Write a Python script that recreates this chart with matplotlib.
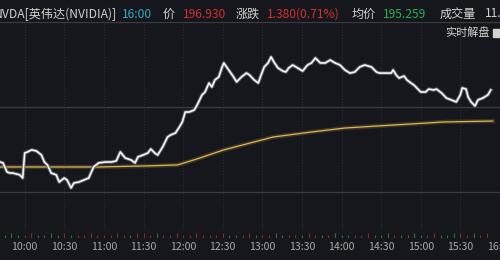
import matplotlib
matplotlib.use("Agg")
import matplotlib.pyplot as plt
import matplotlib.patheffects as pe
from matplotlib.patches import Rectangle
import numpy as np

plt.rcParams['font.family'] = ['Noto Sans CJK SC', 'DejaVu Sans']

# ---- data (minutes after 09:30, price) ----
price_min = [11.3, 13.6, 16.6, 18.8, 21.0, 26.3, 28.5, 30.0, 32.2, 35.2, 38.9, 42.7, 44.9, 47.2,
             50.1, 53.9, 56.1, 59.9, 62.1, 65.1, 67.3, 71.0, 74.8, 78.5, 82.2, 86.0, 91.2, 95.7,
             99.4, 102.4, 106.1, 110.6, 113.6, 115.8, 119.6, 123.3, 125.5, 128.5, 130.7, 134.5,
             138.2, 140.5, 144.2, 147.2, 149.4, 151.6, 154.6, 158.4, 160.6, 164.3, 166.6, 169.6,
             171.8, 174.0, 177.0, 179.3, 180.8, 184.5, 188.2, 190.5, 194.2, 197.9, 200.2, 203.9,
             206.9, 209.1, 211.4, 214.3, 216.6, 218.8, 221.8, 225.5, 227.8, 230.0, 233.0, 236.7,
             240.5, 244.2, 247.2, 250.2, 253.9, 257.6, 261.4, 265.1, 268.8, 272.5, 276.3, 280.0,
             283.7, 287.5, 292.7, 296.4, 298.7, 307.6, 309.1, 311.3, 313.6, 317.3, 319.6, 322.5,
             324.8, 327.0, 330.0, 333.7, 336.0, 339.7, 341.9, 345.7, 349.4, 353.1, 356.9, 359.9,
             361.4, 364.3, 365.8, 368.1, 371.1, 373.3, 377.0, 380.8, 383.0]
price_val = [193.01, 192.96, 192.47, 192.41, 192.41, 192.31, 192.14, 193.50, 193.56, 193.67, 193.61,
             193.39, 193.01, 192.85, 192.41, 192.31, 191.92, 192.14, 192.03, 191.60, 191.87, 191.92,
             192.03, 192.14, 192.74, 192.96, 193.01, 193.01, 193.07, 193.56, 193.23, 193.12, 192.96,
             193.29, 193.39, 193.50, 193.72, 193.50, 193.39, 193.83, 194.37, 194.48, 194.59, 194.92,
             195.19, 195.73, 195.73, 195.84, 196.11, 196.66, 196.82, 197.31, 197.09, 197.47, 197.64,
             198.13, 198.40, 198.02, 197.64, 197.37, 197.64, 197.85, 197.75, 197.47, 197.31, 197.75,
             198.18, 198.40, 198.73, 198.45, 198.13, 197.96, 197.91, 198.13, 198.29, 198.13, 197.96,
             198.29, 198.40, 198.67, 198.40, 198.40, 198.56, 198.40, 198.29, 198.02, 197.85, 197.91,
             198.18, 198.29, 198.18, 197.91, 197.85, 197.85, 198.02, 197.75, 197.58, 197.69, 197.47,
             197.31, 197.20, 197.04, 196.82, 196.82, 196.98, 196.93, 196.98, 196.77, 196.49, 196.39,
             196.28, 196.66, 197.04, 196.98, 196.55, 196.28, 196.06, 196.39, 196.49, 196.66, 196.93]

avg_min = [11.3, 48.6, 86.0, 123.3, 145.7, 160.6, 180.8, 197.9, 218.1, 247.9, 272.5, 297.2,
           322.5, 347.2, 384.5]
avg_val = [192.74, 192.74, 192.74, 192.80, 192.85, 193.18, 193.67, 193.99, 194.37, 194.65,
           194.86, 194.97, 195.08, 195.19, 195.24]

vol_min = list(range(10, 385, 5))
vol_val = [3, 2, 3, 2, 2, 3, 2, 2, 3, 2, 3, 2, 2, 2, 3, 2, 2, 2, 3, 2, 2, 3, 3, 2, 3,
           2, 2, 3, 2, 2, 3, 2, 2, 2, 3, 2, 2, 2, 3, 2, 2, 2, 3, 2, 2, 2, 2, 3, 2, 2,
           2, 3, 2, 2, 2, 2, 3, 2, 2, 3, 2, 2, 2, 3, 2, 2, 3, 2, 2, 3, 3, 2, 3, 2, 3]

tick_min = [30, 60, 90, 120, 150, 180, 210, 240, 270, 300, 330, 360, 390]
tick_lbl = ["10:00", "10:30", "11:00", "11:30", "12:00", "12:30", "13:00", "13:30",
            "14:00", "14:30", "15:00", "15:30", "16:00"]
grid_price = [200.63, 196.00, 191.38]

header = [("NVDA[英伟达(NVIDIA)]", "#d2d2d2", "right", 117),
          ("16:00", "#39a8bd", "left", 122),
          ("价", "#d2d2d2", "left", 163),
          ("196.930", "#d5302f", "left", 183),
          ("涨跌", "#d2d2d2", "left", 236),
          ("1.380(0.71%)", "#d5302f", "left", 267),
          ("均价", "#d2d2d2", "left", 352),
          ("195.259", "#2fae55", "left", 383),
          ("成交量", "#d2d2d2", "left", 440),
          ("11.56亿", "#d2d2d2", "left", 485)]

BG = "#15171c"
W, H = 500, 260
fig = plt.figure(figsize=(5, 2.6), dpi=100, facecolor=BG)

XL = (11.3, 384.5)
ax = fig.add_axes([0, 1 - 230 / H, 1, 208 / H], facecolor=BG)
ax.set_xlim(*XL)
ax.set_ylim(189.31, 200.63)
for s in ax.spines.values():
    s.set_visible(False)
ax.set_xticks(tick_min)
ax.set_yticks(grid_price)
ax.tick_params(length=0, labelbottom=False, labelleft=False)
ax.grid(axis='x', color='#2a2d35', lw=0.8, ls=(0, (1, 1.5)))
ax.grid(axis='y', color='#3b3d43', lw=0.9, ls='-')
ax.set_axisbelow(True)

ax.plot(avg_min, avg_val, color='#d9b65c', lw=0.9, zorder=3,
        path_effects=[pe.Stroke(linewidth=3.2, foreground='#3b3220'), pe.Normal()])
ax.plot(price_min, price_val, color='#f4f4f4', lw=1.2, zorder=4,
        path_effects=[pe.Stroke(linewidth=2.6, foreground='#5a5c62'), pe.Normal()])

# volume strip
axv = fig.add_axes([0, 1 - 238 / H, 1, 7 / H], facecolor=BG)
axv.set_xlim(*XL)
axv.set_ylim(0, 4)
for s in axv.spines.values():
    s.set_visible(False)
vm = np.array(vol_min, float)
p_now = np.interp(vm, price_min, price_val)
p_prev = np.interp(vm - 5, price_min, price_val)
cols = ['#b8302f' if a > b else '#2f9a4f' for a, b in zip(p_now, p_prev)]
axv.vlines(vm, 0, vol_val, colors=cols, lw=0.8, alpha=0.75)
axv.set_xticks(tick_min)
axv.set_xticklabels(tick_lbl, color='#a8a8a8', fontsize=7.6,
                    family=['Noto Sans CJK SC', 'DejaVu Sans'])
axv.tick_params(axis='x', length=0, pad=3)
axv.set_yticks([])

# header
for txt, c, ha, x in header:
    fig.text(x / W, 1 - 14 / H, txt, color=c, ha=ha, va='center', fontsize=8.7)
fig.text(445 / W, 1 - 33 / H, "实时解盘", color='#d2d2d2', ha='left', va='center', fontsize=8)
fig.patches.append(Rectangle((493 / W, 1 - 37 / H), 8 / W, 8 / H, transform=fig.transFigure,
                             color='#d2d2d2'))

fig.savefig("out.png", dpi=100, facecolor=BG)
